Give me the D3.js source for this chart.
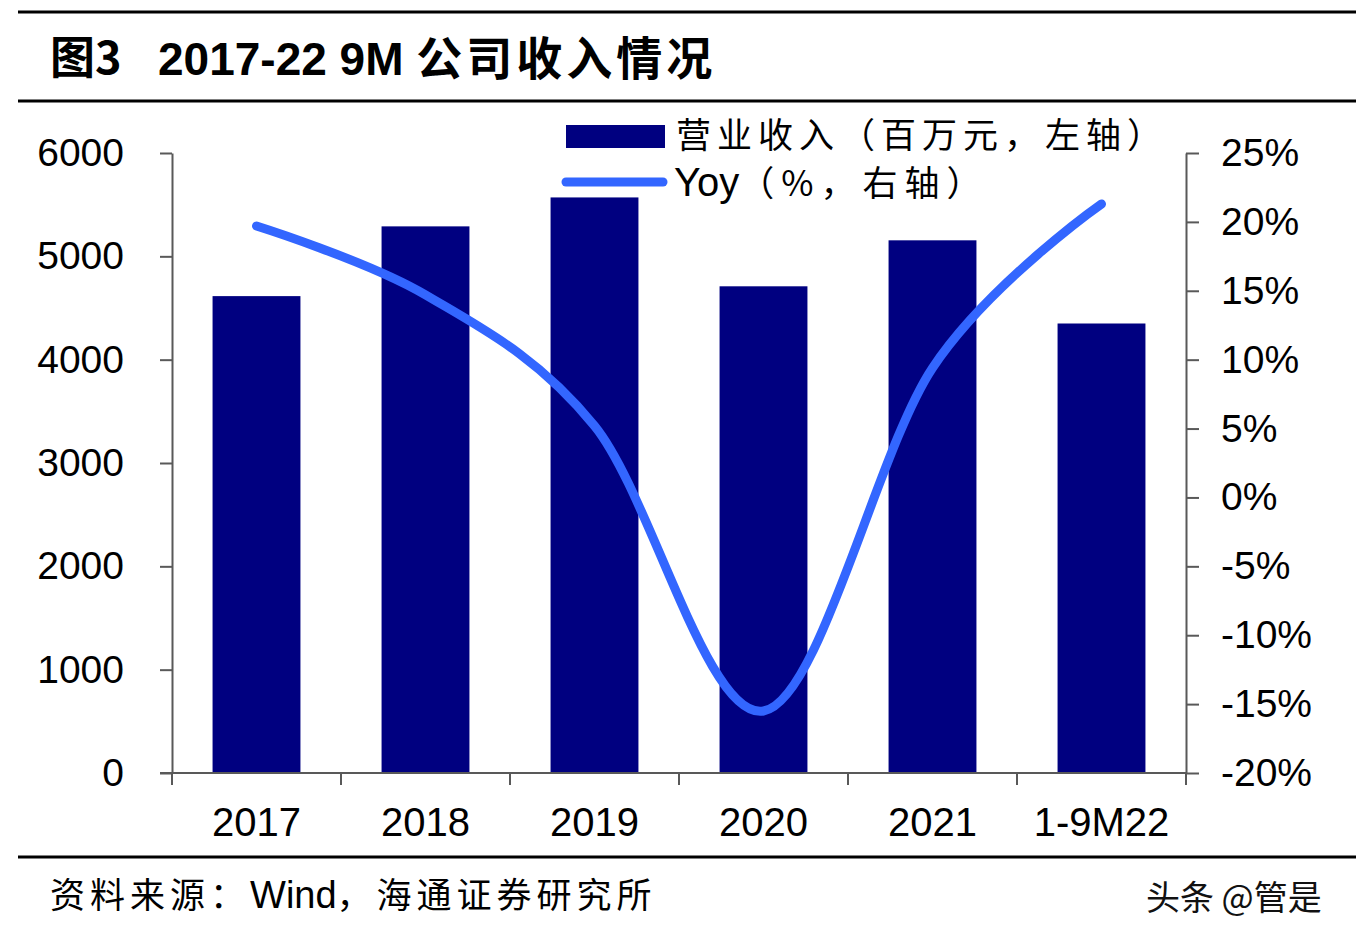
<!DOCTYPE html>
<html>
<head>
<meta charset="utf-8">
<script src="https://cdn.jsdelivr.net/npm/d3@7/dist/d3.min.js"></script>
<style>
  html, body { margin: 0; padding: 0; background: #ffffff; }
  svg { display: block; }
</style>
</head>
<body>
<svg id="chart" width="1356" height="942"></svg>
<script>
// ---- data ----
const categories = ["2017", "2018", "2019", "2020", "2021", "1-9M22"];
const revenue = [4615, 5290, 5570, 4710, 5155, 4350];        // 营业收入（百万元）
const yoy = [0.197, 0.147, 0.052, -0.155, 0.094, 0.213];     // Yoy
const leftTicks = [0, 1000, 2000, 3000, 4000, 5000, 6000];
const rightTicks = [-0.20, -0.15, -0.10, -0.05, 0, 0.05, 0.10, 0.15, 0.20, 0.25];
const titleLabel = "图3";
const titleNum = "2017-22 9M ";
const titleText = "公司收入情况";
const sourceParts = ["资料来源：", "Wind", "，海通证券研究所"];
const watermark = "头条 @管是";
const legendLabels = ["营业收入（百万元，左轴）", "Yoy", "（%，右轴）"];

// ---- layout ----
const svg = d3.select("#chart");
const x0 = 172, x1 = 1186, yTop = 153, yBot = 773;
const barColor = "#000080", lineColor = "#3366ff", axisColor = "#595959";
const numFont = "'Liberation Sans', Arial, sans-serif";
const cjkFont = "'Noto Sans CJK SC', 'Liberation Sans', sans-serif";

const x = d3.scaleBand().domain(categories).range([x0, x1]).paddingInner(0.48).paddingOuter(0.24);
const yL = d3.scaleLinear().domain([0, 6000]).range([yBot, yTop]);
const yR = d3.scaleLinear().domain([-0.20, 0.25]).range([yBot, yTop]);

// frame lines
[12, 101, 857].forEach(yy => {
  svg.append("line").attr("x1", 18).attr("x2", 1356).attr("y1", yy).attr("y2", yy)
    .attr("stroke", "#000").attr("stroke-width", 3);
});

// title
svg.append("text").attr("x", 50).attr("y", 74)
  .attr("font-family", cjkFont).attr("font-weight", "bold").attr("font-size", 45)
  .attr("fill", "#000").text(titleLabel);
const tt = svg.append("text").attr("x", 158).attr("y", 75).attr("font-weight", "bold").attr("fill", "#000");
tt.append("tspan").attr("font-family", numFont).attr("font-size", 46).text(titleNum);
tt.append("tspan").attr("font-family", cjkFont).attr("font-size", 46).attr("letter-spacing", 4).text(titleText);

// bars
svg.append("g").selectAll("rect").data(categories).join("rect")
  .attr("x", d => x(d))
  .attr("width", x.bandwidth())
  .attr("y", (d, i) => yL(revenue[i]))
  .attr("height", (d, i) => yBot - yL(revenue[i]))
  .attr("fill", barColor);

// axes
function styleAxis(g) {
  g.selectAll(".domain").attr("stroke", axisColor).attr("stroke-width", 2);
  g.selectAll(".tick line").attr("stroke", axisColor).attr("stroke-width", 2);
  g.selectAll(".tick text").attr("fill", "#000").attr("font-family", numFont);
}
const gL = svg.append("g").attr("transform", `translate(${x0},0)`)
  .call(d3.axisLeft(yL).tickValues(leftTicks).tickSize(12).tickSizeOuter(0).tickPadding(36).tickFormat(d => String(d)));
styleAxis(gL);
gL.selectAll(".tick text").attr("font-size", 39);

const pct = d => Math.round(d * 100) + "%";
const gR = svg.append("g").attr("transform", `translate(${x1},0)`)
  .call(d3.axisRight(yR).tickValues(rightTicks).tickSize(13).tickSizeOuter(0).tickPadding(22).tickFormat(pct));
styleAxis(gR);
gR.selectAll(".tick text").attr("font-size", 39);

// bottom axis with ticks at category boundaries
const boundaries = d3.range(categories.length + 1).map(i => x0 + i * x.step());
const gB = svg.append("g");
gB.append("line").attr("x1", 160).attr("x2", x1).attr("y1", yBot).attr("y2", yBot)
  .attr("stroke", axisColor).attr("stroke-width", 2);
gB.selectAll("line.bt").data(boundaries).join("line").attr("class", "bt")
  .attr("x1", d => d).attr("x2", d => d).attr("y1", yBot).attr("y2", yBot + 12)
  .attr("stroke", axisColor).attr("stroke-width", 2);
gB.selectAll("text").data(categories).join("text")
  .attr("x", d => x(d) + x.bandwidth() / 2).attr("y", 836)
  .attr("text-anchor", "middle").attr("font-family", numFont).attr("font-size", 40)
  .attr("fill", "#000").text(d => d);

// yoy line
const line = d3.line()
  .x((d, i) => x(categories[i]) + x.bandwidth() / 2)
  .y(d => yR(d))
  .curve(d3.curveCardinal.tension(0));
svg.append("path").datum(yoy).attr("d", line)
  .attr("fill", "none").attr("stroke", lineColor).attr("stroke-width", 9)
  .attr("stroke-linecap", "round").attr("stroke-linejoin", "round");

// legend
const lg = svg.append("g");
lg.append("rect").attr("x", 566).attr("y", 125).attr("width", 99).attr("height", 23).attr("fill", barColor);
lg.append("line").attr("x1", 566).attr("x2", 663).attr("y1", 182).attr("y2", 182)
  .attr("stroke", lineColor).attr("stroke-width", 9).attr("stroke-linecap", "round");
lg.append("text").attr("x", 676).attr("y", 148).attr("font-family", cjkFont).attr("font-size", 35)
  .attr("letter-spacing", 6).attr("fill", "#000").text(legendLabels[0]);
const t2 = lg.append("text").attr("x", 674).attr("y", 196).attr("fill", "#000");
t2.append("tspan").attr("font-family", numFont).attr("font-size", 40).text(legendLabels[1]);
t2.append("tspan").attr("font-family", cjkFont).attr("font-size", 35).attr("letter-spacing", 7).text(legendLabels[2]);

// source & watermark
const st = svg.append("text").attr("x", 50).attr("y", 908).attr("fill", "#000");
st.append("tspan").attr("font-family", cjkFont).attr("font-size", 35).attr("letter-spacing", 5).text(sourceParts[0]);
st.append("tspan").attr("font-family", numFont).attr("font-size", 38).text(sourceParts[1]);
st.append("tspan").attr("font-family", cjkFont).attr("font-size", 35).attr("letter-spacing", 5).text(sourceParts[2]);
svg.append("text").attr("x", 1146).attr("y", 910).attr("font-family", cjkFont).attr("font-size", 34)
  .attr("fill", "#111").text(watermark);
</script>
</body>
</html>
